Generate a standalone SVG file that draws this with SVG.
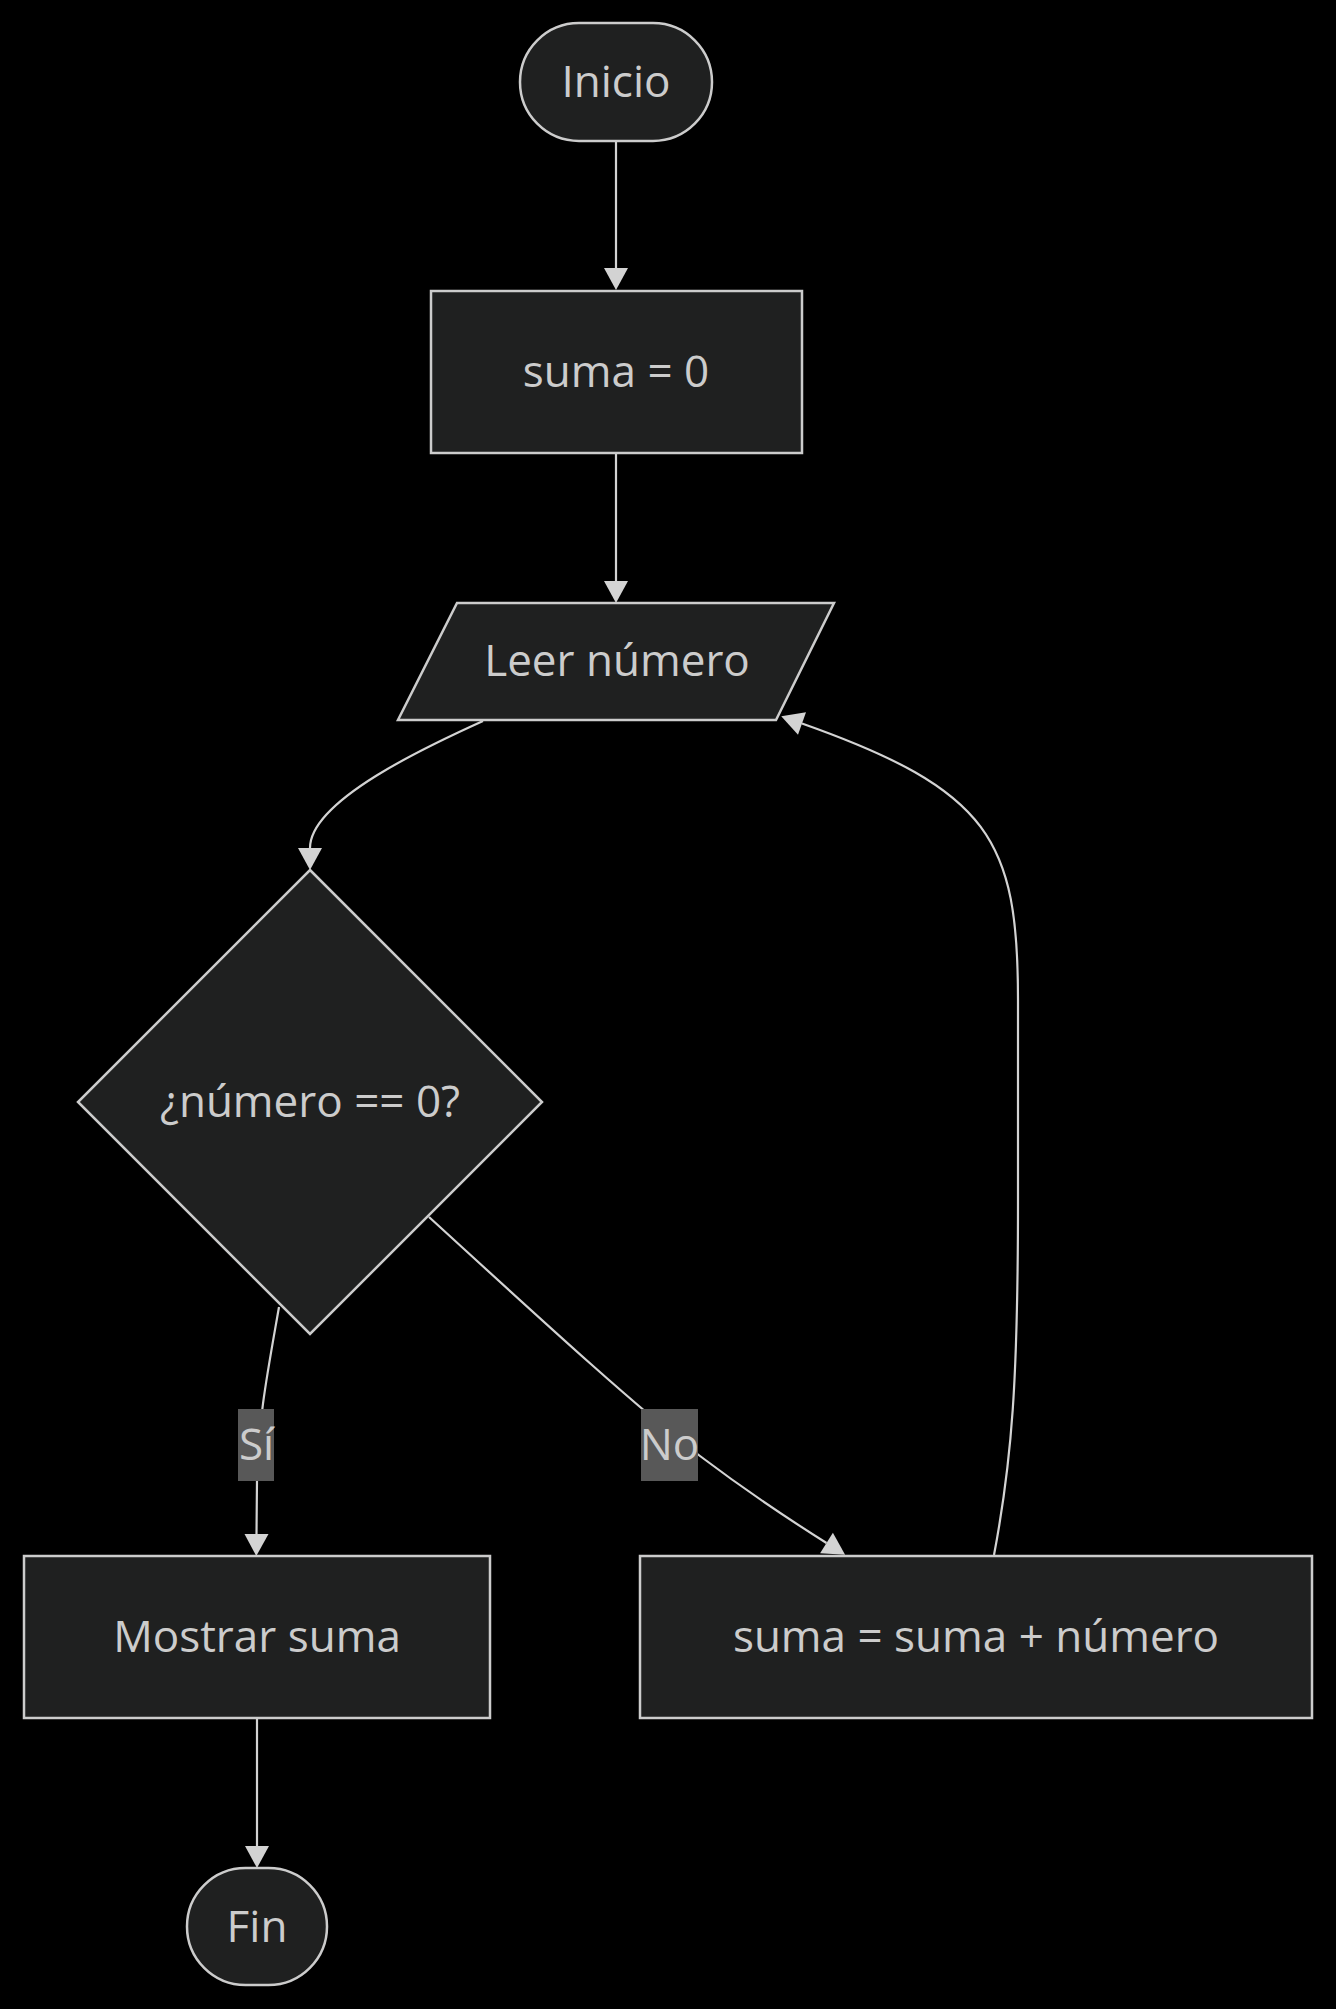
<svg xmlns="http://www.w3.org/2000/svg" width="1336" height="2009" viewBox="0 0 1336 2009">
<style>
.node{fill:#1f2020;stroke:#cccccc;stroke-width:2.5}
.lbl{font-family:"Open Sans","Liberation Sans",sans-serif;font-size:44px;fill:#cccccc;text-anchor:middle}
.edge{fill:none;stroke:#d3d3d3;stroke-width:2.2;marker-end:url(#arrow)}
.elbg{fill:#585858}
</style>
<defs>
<marker id="arrow" markerWidth="22" markerHeight="24" refX="0" refY="12" orient="auto" markerUnits="userSpaceOnUse" viewBox="0 0 22 24" overflow="visible">
<path d="M0,0 L22,12 L0,24 z" fill="#d3d3d3"/>
</marker>
</defs>
<rect width="1336" height="2009" fill="#000000"/>
<g id="connectors">
<path class="edge" d="M616,141 L616,268"/>
<path class="edge" d="M616,453 L616,581"/>
<path class="edge" d="M483,721 C430,745 310,800 310,848"/>
<path class="edge" d="M279,1307 C268,1370 258,1420 257,1480 L256.5,1534"/>
<path class="edge" d="M429,1217 C560,1337 640,1410 700,1456 C745,1490 790,1520 826.5,1543"/>
<path class="edge" d="M994,1555 C1012,1460 1018,1380 1018,1200 L1018,1000 C1018,840 990,790 802,723.5"/>
<path class="edge" d="M257,1718 L257,1846"/>
</g>
<g id="edge-labels">
<g id="label-si">
<rect class="elbg" x="238" y="1409" width="36" height="72"/>
<text class="lbl" x="256.5" y="1460">Sí</text>
</g>
<g id="label-no">
<rect class="elbg" x="641" y="1409" width="57" height="72"/>
<text class="lbl" x="669.5" y="1460">No</text>
</g>
</g>
<g id="node-inicio">
<rect class="node" x="520" y="23" width="192" height="118" rx="59" ry="59"/>
<text class="lbl" x="616" y="97">Inicio</text>
</g>
<g id="node-suma0">
<rect class="node" x="431" y="291" width="371" height="162"/>
<text class="lbl" x="616" y="387">suma = 0</text>
</g>
<g id="node-leer">
<polygon class="node" points="457,603 834,603 776,720 398,720"/>
<text class="lbl" x="617" y="676">Leer número</text>
</g>
<g id="node-decision">
<polygon class="node" points="310,870 542,1102 310,1334 78,1102"/>
<text class="lbl" x="310" y="1117">¿número == 0?</text>
</g>
<g id="node-mostrar">
<rect class="node" x="24" y="1556" width="466" height="162"/>
<text class="lbl" x="257" y="1652">Mostrar suma</text>
</g>
<g id="node-acumular">
<rect class="node" x="640" y="1556" width="672" height="162"/>
<text class="lbl" x="976" y="1652">suma = suma + número</text>
</g>
<g id="node-fin">
<rect class="node" x="187" y="1868" width="140" height="117" rx="58.5" ry="58.5"/>
<text class="lbl" x="257" y="1942">Fin</text>
</g>
</svg>
